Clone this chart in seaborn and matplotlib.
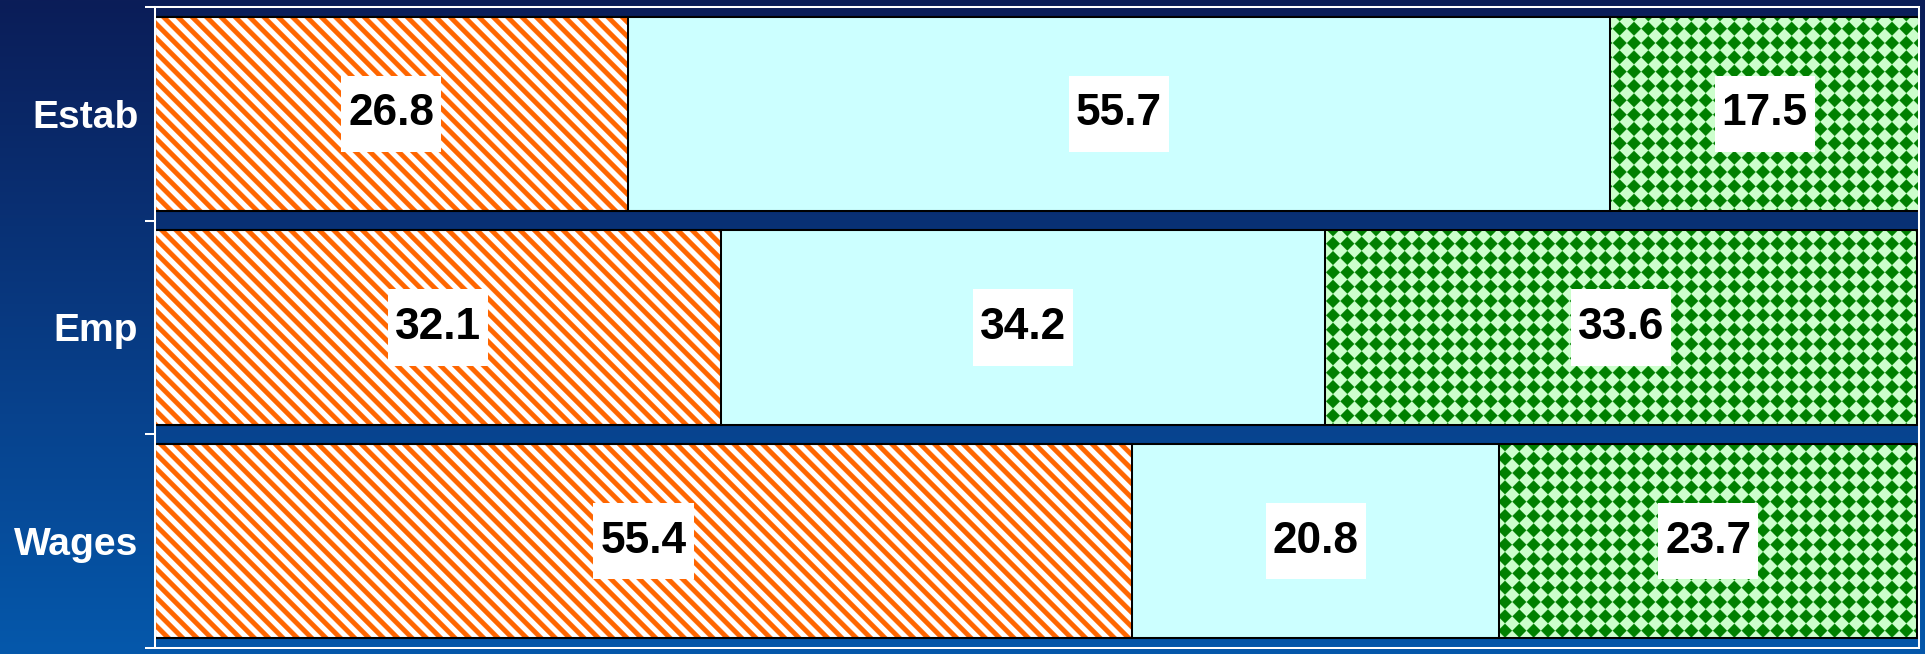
import numpy as np
import pandas as pd
import matplotlib
matplotlib.use("Agg")
import matplotlib.pyplot as plt
import matplotlib.hatch as mhatch
from matplotlib.path import Path
from matplotlib.colors import LinearSegmentedColormap
import seaborn as sns

# ---------------- data ----------------
categories = ["Estab", "Emp", "Wages"]
share_a = [26.8, 32.1, 55.4]   # orange striped
share_b = [55.7, 34.2, 20.8]   # light cyan
share_c = [17.5, 33.6, 23.7]   # green checker

plt.rcParams['font.family'] = ['Liberation Sans', 'DejaVu Sans']
plt.rcParams['hatch.linewidth'] = 0.2


# --------------- custom filled hatch patterns ---------------
class DiamondGrid(mhatch.HatchPatternBase):
    """Square grid of filled diamonds (triggered by '*')."""
    size = 0.48

    def __init__(self, hatch, density):
        self.num_rows = int(hatch.count('*') * density)
        n = self.num_rows
        self.num_vertices = (n + 1) * (n + 1) * 5 if n else 0

    def set_vertices_and_codes(self, vertices, codes):
        n = self.num_rows
        off = 1.0 / n
        r = self.size * off
        shape = np.array([[0, r], [-r, 0], [0, -r], [r, 0], [0, r]])
        shape_codes = [Path.MOVETO, Path.LINETO, Path.LINETO, Path.LINETO, Path.CLOSEPOLY]
        k = 0
        for i in range(n + 1):
            for j in range(n + 1):
                vertices[k:k + 5] = shape + [j * off, i * off]
                codes[k:k + 5] = shape_codes
                k += 5


class FilledBackStripes(mhatch.HatchPatternBase):
    """Thick filled diagonal stripes, top-left to bottom-right (triggered by '\\')."""
    frac = 0.46

    def __init__(self, hatch, density):
        self.num_stripes = int(hatch.count('\\') * density)
        k = self.num_stripes
        self.num_bands = 2 * k + 3 if k else 0
        self.num_vertices = self.num_bands * 5

    def set_vertices_and_codes(self, vertices, codes):
        k = self.num_stripes
        p = 1.0 / k
        w = self.frac * p
        shape_codes = [Path.MOVETO, Path.LINETO, Path.LINETO, Path.LINETO, Path.CLOSEPOLY]
        for b in range(self.num_bands):
            c = (b - 1) * p
            band = np.array([[-1.0, c + 1.0], [2.0, c - 2.0], [2.0, c - 2.0 + w],
                             [-1.0, c + 1.0 + w], [-1.0, c + 1.0]])
            vertices[b * 5:(b + 1) * 5] = band
            codes[b * 5:(b + 1) * 5] = shape_codes


mhatch._hatch_types = [h for h in mhatch._hatch_types
                       if h not in (mhatch.Stars, mhatch.SouthEastHatch)] + [DiamondGrid, FilledBackStripes]


def label_box(x0, y0, width, height, mutation_size):
    px = 0.16 * mutation_size
    py = 0.40 * mutation_size
    return Path([(x0 - px, y0 - py), (x0 + width + px, y0 - py),
                 (x0 + width + px, y0 + height + py), (x0 - px, y0 + height + py),
                 (x0 - px, y0 - py)], closed=True)


# --------------- figure ---------------
DPI = 86
W, H = 1925, 654
fig = plt.figure(figsize=(W / DPI, H / DPI), dpi=DPI)

bg = fig.add_axes([0, 0, 1, 1], zorder=-10)
cmap = LinearSegmentedColormap.from_list("bg", ["#0b1d58", "#083a82", "#0558ab"])
bg.imshow(np.linspace(0, 1, 256)[:, None], aspect='auto', cmap=cmap, extent=[0, 1, 0, 1])
bg.axis('off')

ax = fig.add_axes([155 / W, (H - 648) / H, (1919 - 155) / W, (648 - 7) / H])
ax.set_facecolor('none')

df = pd.DataFrame({"category": categories, "a": share_a, "b": share_b, "c": share_c})
df["cum_a"] = df["a"]
df["cum_b"] = df["a"] + df["b"]
df["cum_c"] = df["a"] + df["b"] + df["c"]

# draw from the longest cumulative bar to the shortest so each segment shows
layers = [
    ("cum_c", "#ccffcc", "#008000", "*"),
    ("cum_b", "#ccffff", "#ccffff", None),
    ("cum_a", "#ffffff", "#ff6600", "\\"),
]

BAR_W = 0.91
for col, face, hcol, hatch in layers:
    with plt.rc_context({"hatch.color": hcol}):
        n0 = len(ax.patches)
        kw = dict(hatch=hatch) if hatch else {}
        sns.barplot(data=df, x=col, y="category", order=categories, orient="h",
                    color=face, saturation=1, width=BAR_W,
                    errorbar=None, linewidth=0, ax=ax, **kw)
        for p in ax.patches[n0:]:
            p._hatch_color = matplotlib.colors.to_rgba(hcol)

# black outlines
for col, *_ in layers:
    sns.barplot(data=df, x=col, y="category", order=categories, orient="h",
                fill=False, edgecolor="black", width=BAR_W,
                errorbar=None, linewidth=1.7, ax=ax)

# value labels, centred in each segment
for seg, cum in [("a", "cum_a"), ("b", "cum_b"), ("c", "cum_c")]:
    for i, (v, c) in enumerate(zip(df[seg], df[cum])):
        ax.text(c - v / 2, i, f"{v:.1f}", ha='center', va='center',
                fontsize=37, fontweight='bold', color='black', zorder=6,
                bbox=dict(boxstyle=label_box, fc='white', ec='none'))

ax.set_xlim(0, 100)
ax.set_ylim(2.5, -0.5)
ax.set_xlabel("")
ax.set_ylabel("")
ax.set_xticks([])
ax.set_yticks(range(len(categories)))
ax.set_yticklabels(categories)
ax.set_yticks([-0.5, 0.5, 1.5, 2.5], minor=True)
ax.tick_params(axis='y', which='major', length=0, pad=14, labelsize=32.7, labelcolor='white')
ax.tick_params(axis='y', which='minor', length=8.4, width=1.7, color='white', direction='out')
for lbl in ax.get_yticklabels():
    lbl.set_fontweight('bold')
for s in ax.spines.values():
    s.set_color('white')
    s.set_linewidth(1.7)

fig.savefig("out.png", dpi=DPI)
